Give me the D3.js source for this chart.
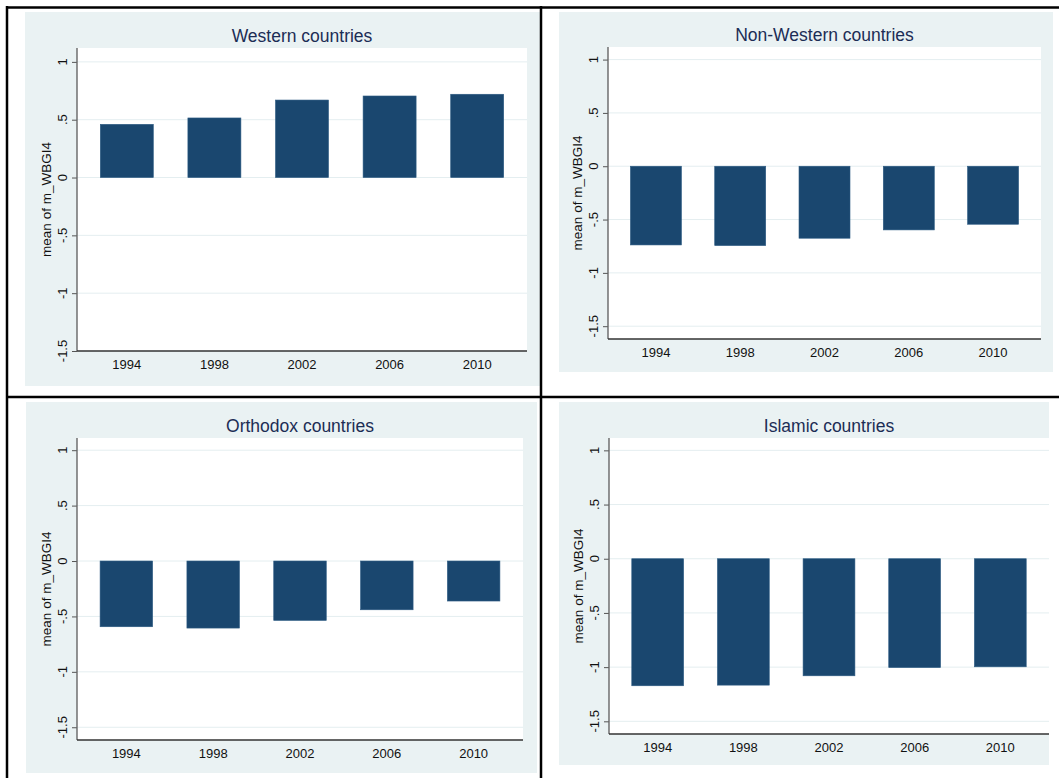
<!DOCTYPE html>
<html>
<head>
<meta charset="utf-8">
<script src="https://cdn.jsdelivr.net/npm/d3@7"></script>
<style>
  body { margin: 0; background: #fff; }
  text { font-family: "Liberation Sans", Arial, sans-serif; }
</style>
</head>
<body>
<div id="chart"></div>
<script>
        // Data
        const years = ["1994", "1998", "2002", "2006", "2010"];
        const westernValues = [0.46, 0.515, 0.67, 0.705, 0.72];
        const nonWesternValues = [-0.738, -0.744, -0.675, -0.597, -0.544];
        const orthodoxValues = [-0.593, -0.605, -0.536, -0.44, -0.361];
        const islamicValues = [-1.172, -1.166, -1.08, -1.004, -0.997];
        const yTicks = [-1.5, -1, -0.5, 0, 0.5, 1];
        const yTitle = "mean of m_WBGI4";

        // Layout of each panel: background box, plot box, y range
        const panels = [
            { title: "Western countries", values: westernValues,
              bg: [25, 12, 540, 386], plot: [77, 48, 527, 351], yMin: -1.5, yMax: 1.12 },
            { title: "Non-Western countries", values: nonWesternValues,
              bg: [559, 12, 1053, 372], plot: [608, 47, 1041, 339], yMin: -1.62, yMax: 1.118 },
            { title: "Orthodox countries", values: orthodoxValues,
              bg: [26, 402, 537, 773], plot: [77, 438, 523, 740], yMin: -1.615, yMax: 1.11 },
            { title: "Islamic countries", values: islamicValues,
              bg: [559, 402, 1049, 765], plot: [609, 438, 1049, 734], yMin: -1.617, yMax: 1.114 }
        ];

        const width = 1059;
        const height = 778;

        const svg = d3.select("#chart")
            .append("svg")
            .attr("width", width)
            .attr("height", height);

        // Stata style labels: ".5", "-.5"
        const fmt = v => String(v).replace(/^(-?)0\./, "$1.");

        panels.forEach(p => {
            const [bx0, by0, bx1, by1] = p.bg;
            const [px0, py0, px1, py1] = p.plot;
            const g = svg.append("g");

            g.append("rect")
                .attr("x", bx0).attr("y", by0)
                .attr("width", bx1 - bx0).attr("height", by1 - by0)
                .attr("fill", "#eaf2f3");

            g.append("rect")
                .attr("x", px0).attr("y", py0)
                .attr("width", px1 - px0).attr("height", py1 - py0)
                .attr("fill", "#fff");

            const x = d3.scaleBand()
                .domain(years)
                .range([px0, px1])
                .paddingInner(0.395)
                .paddingOuter(0.266);

            const y = d3.scaleLinear()
                .domain([p.yMin, p.yMax])
                .range([py1, py0]);

            // grid lines
            g.selectAll(".grid")
                .data(yTicks.filter(t => y(t) < py1 - 2))
                .enter()
                .append("line")
                .attr("x1", px0).attr("x2", px1)
                .attr("y1", d => y(d)).attr("y2", d => y(d))
                .attr("stroke", "#e4eef0")
                .attr("stroke-width", 1);

            // bars
            g.selectAll(".bar")
                .data(p.values)
                .enter()
                .append("rect")
                .attr("x", (d, i) => x(years[i]))
                .attr("width", x.bandwidth())
                .attr("y", d => y(Math.max(0, d)))
                .attr("height", d => Math.abs(y(d) - y(0)))
                .attr("fill", "#1a476f")
                .attr("stroke", "#2c5a82")
                .attr("stroke-width", 0.6);

            // y axis
            const yAxis = d3.axisLeft(y)
                .tickValues(yTicks)
                .tickSize(5)
                .tickFormat("");
            const ya = g.append("g")
                .attr("transform", `translate(${px0},0)`)
                .call(yAxis);
            ya.select(".domain").remove();
            ya.selectAll("line").attr("stroke", "#555");
            g.append("line")
                .attr("x1", px0).attr("x2", px0)
                .attr("y1", py0).attr("y2", py1)
                .attr("stroke", "#666").attr("stroke-width", 1.4);

            g.selectAll(".ylab")
                .data(yTicks)
                .enter()
                .append("text")
                .attr("transform", d => `translate(${px0 - 10},${y(d)}) rotate(-90)`)
                .attr("text-anchor", "middle")
                .attr("font-size", 13)
                .attr("fill", "#111")
                .text(fmt);

            g.append("text")
                .attr("transform", `translate(${px0 - 26},${(py0 + py1) / 2}) rotate(-90)`)
                .attr("text-anchor", "middle")
                .attr("font-size", 13.5)
                .attr("fill", "#111")
                .text(yTitle);

            // x axis
            g.append("line")
                .attr("x1", px0).attr("x2", px1)
                .attr("y1", py1).attr("y2", py1)
                .attr("stroke", "#333").attr("stroke-width", 1.3);

            g.selectAll(".xlab")
                .data(years)
                .enter()
                .append("text")
                .attr("x", d => x(d) + x.bandwidth() / 2)
                .attr("y", py1 + 18)
                .attr("text-anchor", "middle")
                .attr("font-size", 13)
                .attr("fill", "#111")
                .text(d => d);

            // title
            g.append("text")
                .attr("x", (px0 + px1) / 2)
                .attr("y", py0 - 6)
                .attr("text-anchor", "middle")
                .attr("font-size", 17.5)
                .attr("fill", "#1c2d55")
                .text(p.title);
        });

        // table borders
        const borders = [
            [6, 7.5, width, 7.5],
            [7, 6, 7, height],
            [541, 6, 541, height],
            [6, 397, width, 397]
        ];
        svg.selectAll(".border")
            .data(borders)
            .enter()
            .append("line")
            .attr("x1", d => d[0]).attr("y1", d => d[1])
            .attr("x2", d => d[2]).attr("y2", d => d[3])
            .attr("stroke", "#000")
            .attr("stroke-width", 2.5);
</script>
</body>
</html>
